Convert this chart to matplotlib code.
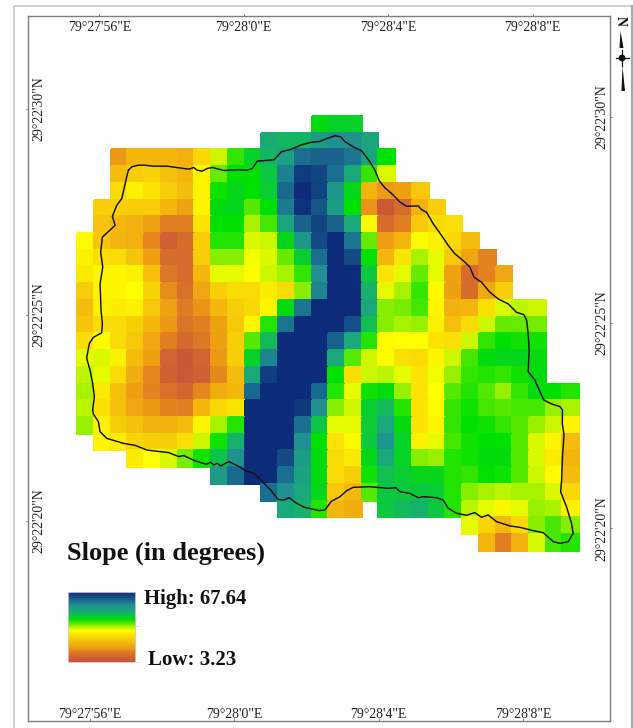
import numpy as np
import matplotlib
matplotlib.use("Agg")
import matplotlib.pyplot as plt
from matplotlib.colors import LinearSegmentedColormap, Normalize
from matplotlib.patches import Polygon, Circle

plt.rcParams['font.family'] = ['Liberation Serif', 'DejaVu Serif']

W, H = 633, 728
nan = float('nan')

# slope raster: (first column, stretched values 0-100 from Low to High)
rows = [
    (14, [61, 63, 63]),
    (11, [71, 69, 69, 76, 80, 80, 73]),
    (2, [19, 27, 27, 27, 25, 35, 48, 57, 63, 69, 75, 86, 88, 88, 85, 74, 60]),
    (2, [28, 32, 34, 29, 27, 42, 54, 60, 60, 65, 83, 96, 93, 86, 72, 57, 47]),
    (2, [36, 41, 38, 32, 28, 42, 59, 62, 60, 64, 87, 100, 94, 78, 62, 26, 19, 20, 31]),
    (1, [33, 33, 32, 32, 27, 21, 42, 61, 62, 55, 60, 84, 98, 90, 76, 60, 18, 3, 9, 25, 33]),
    (1, [30, 27, 25, 21, 14, 14, 38, 60, 60, 50, 56, 73, 88, 94, 88, 72, 43, 9, 14, 31, 36, 37]),
    (0, [43, 30, 26, 25, 16, 5, 9, 33, 58, 58, 47, 48, 62, 78, 92, 100, 85, 54, 20, 26, 43, 41, 35, 28]),
    (0, [41, 37, 36, 30, 20, 9, 9, 32, 52, 52, 45, 47, 54, 64, 86, 100, 92, 60, 26, 38, 50, 46, 31, 22, 15]),
    (0, [39, 42, 42, 41, 29, 12, 9, 27, 46, 46, 43, 48, 50, 57, 80, 100, 100, 65, 38, 46, 54, 46, 21, 9, 15, 22]),
    (0, [32, 42, 42, 44, 34, 17, 10, 22, 33, 36, 36, 40, 36, 52, 82, 100, 100, 70, 46, 50, 57, 43, 20, 9, 23, 32]),
    (0, [28, 41, 40, 41, 31, 21, 13, 18, 27, 32, 35, 42, 61, 85, 100, 100, 100, 72, 52, 53, 56, 42, 25, 26, 37, 47, 49, 48]),
    (0, [30, 36, 36, 33, 27, 19, 11, 14, 21, 31, 42, 58, 85, 100, 100, 100, 91, 67, 52, 50, 51, 41, 29, 36, 48, 54, 54, 53]),
    (0, [36, 43, 36, 31, 22, 14, 8, 12, 20, 33, 55, 68, 100, 100, 100, 88, 72, 58, 43, 44, 44, 38, 37, 48, 57, 60, 59, 59]),
    (0, [46, 47, 41, 28, 20, 6, 2, 6, 19, 33, 63, 82, 100, 100, 100, 72, 55, 48, 43, 37, 36, 42, 48, 56, 61, 62, 62, 61]),
    (0, [49, 46, 36, 24, 16, 5, 3, 5, 16, 28, 72, 95, 100, 100, 100, 60, 36, 48, 49, 46, 38, 45, 51, 57, 58, 57, 59, 61]),
    (0, [50, 39, 29, 20, 15, 10, 7, 16, 24, 27, 87, 100, 100, 100, 87, 58, 46, 59, 61, 51, 38, 44, 55, 58, 55, 51, 57, 61, 60, 58]),
    (0, [49, 37, 29, 22, 19, 15, 14, 27, 35, 38, 100, 100, 100, 97, 80, 52, 48, 64, 68, 58, 38, 43, 57, 59, 56, 55, 56, 56, 51, 50]),
    (0, [51, 41, 32, 29, 25, 25, 28, 42, 50, 58, 100, 100, 100, 86, 66, 46, 46, 64, 72, 61, 38, 42, 57, 60, 59, 57, 55, 51, 48, 42]),
    (1, [42, 40, 34, 33, 32, 37, 48, 59, 70, 100, 100, 100, 80, 60, 38, 43, 65, 78, 63, 41, 46, 56, 59, 60, 60, 55, 47, 42, 28]),
    (3, [40, 44, 47, 53, 59, 66, 80, 100, 100, 92, 76, 61, 36, 39, 62, 72, 63, 52, 51, 58, 59, 61, 61, 55, 47, 40, 26]),
    (8, [76, 87, 100, 100, 86, 74, 61, 36, 33, 59, 67, 64, 62, 62, 58, 57, 60, 59, 55, 48, 43, 28]),
    (11, [86, 80, 72, 62, 31, 27, 55, 65, 65, 65, 64, 58, 52, 50, 49, 50, 50, 47, 35]),
    (12, [72, 70, 58, 27, 24, nan, 65, 68, 70, 65, 58, 49, 46, 42, 46, 51, 50, 41]),
    (23, [46, 34, 27, 35, 52, 56, 52]),
    (24, [26, 14, 25, 47, 56, 58]),
]
n_cols = 30

# watershed boundary, in raster (column, row) units
boundary = [
    (3.06, 3.24), (3.26, 3.04), (3.66, 2.94), (3.96, 2.94), (4.56, 3.00), (5.36, 3.00), (5.96, 3.08),
    (6.66, 3.18), (6.96, 3.08), (7.16, 3.24), (7.46, 3.30), (7.76, 3.14), (8.06, 3.08), (8.46, 3.18),
    (8.76, 3.26), (9.56, 3.22), (10.16, 3.24), (10.46, 3.14), (10.76, 2.70), (11.76, 2.62), (12.2, 2.14),
    (12.76, 2.0), (13.36, 1.74), (13.96, 1.58), (14.5, 1.52), (14.94, 1.34), (15.4, 1.18), (15.74, 1.24),
    (16.0, 1.54), (16.49, 1.84), (16.99, 2.08), (17.49, 2.74), (17.79, 3.24), (18.05, 3.88), (18.39, 4.30),
    (18.79, 4.64), (19.28, 5.14), (19.68, 5.40), (20.38, 5.38), (20.58, 5.60), (20.88, 5.76), (21.27, 6.44),
    (21.77, 7.14), (22.17, 7.74), (22.57, 8.24), (23.17, 8.74), (23.47, 9.04), (23.71, 9.64), (24.16, 9.94),
    (24.66, 10.54), (25.16, 10.94), (25.76, 11.24), (26.25, 11.74), (26.69, 11.88), (26.85, 12.2), (26.95, 13.0),
    (27.01, 14.0), (26.95, 15.29), (27.35, 15.79), (27.65, 16.49), (27.89, 16.99), (28.35, 17.22), (28.85, 17.38),
    (29.0, 17.58), (28.99, 18.38), (29.09, 19.08), (29.0, 20.38), (28.95, 21.77), (28.89, 22.47), (29.24, 23.37),
    (29.54, 24.36), (29.64, 24.96), (29.34, 25.46), (28.85, 25.56), (28.45, 25.46), (27.85, 24.92), (27.25, 24.8),
    (26.45, 24.6), (25.86, 24.52), (25.06, 24.26), (24.56, 23.86), (24.16, 24.0), (23.76, 23.72), (23.27, 23.88),
    (22.67, 23.76), (22.17, 23.46), (21.87, 22.97), (21.47, 22.83), (20.68, 22.77), (20.38, 22.83), (19.88, 22.57),
    (19.28, 22.47), (19.04, 22.23), (18.59, 22.27), (17.49, 22.17), (16.49, 22.21), (16.1, 22.41), (15.7, 22.77),
    (15.2, 23.03), (14.8, 23.56), (14.46, 23.6), (13.56, 23.4), (13.06, 23.13), (12.66, 22.83), (12.36, 22.97),
    (12.0, 22.93), (11.56, 22.37), (11.06, 21.87), (10.56, 21.37), (10.06, 21.21), (9.56, 20.91), (9.06, 20.67),
    (8.56, 20.93), (8.36, 20.77), (8.16, 20.87), (7.96, 20.71), (7.72, 20.83), (7.06, 20.63), (6.36, 20.31),
    (6.06, 20.37), (5.46, 20.13), (4.16, 19.98), (3.46, 19.7), (2.76, 19.58), (1.76, 19.28), (1.36, 18.88),
    (1.26, 18.28), (0.96, 17.82), (0.92, 17.54), (1.02, 16.79), (0.92, 16.0), (0.76, 15.19), (0.56, 14.49),
    (0.72, 13.6), (0.96, 13.24), (1.46, 12.96), (1.5, 12.4), (1.42, 11.64), (1.36, 10.04), (1.52, 9.04),
    (1.4, 8.14), (1.5, 7.24), (2.26, 6.54), (2.1, 6.0), (2.36, 5.34), (2.66, 4.94), (2.86, 4.04), (3.0, 3.44),
    (3.06, 3.24),
]

lon_ticks = [56, 60, 64, 68]
lon_labels = ['79°27\'56"E', '79°28\'0"E', '79°28\'4"E', '79°28\'8"E']
lat_ticks = [20, 25, 30]
lat_labels = ['29°22\'20"N', '29°22\'25"N', '29°22\'30"N']

title_text = 'Slope (in degrees)'
high_text = 'High: 67.64'
low_text = 'Low: 3.23'

stops = [0, 8, 15, 20, 26, 32, 37, 44, 48, 51, 55, 60, 65, 72, 80, 86, 92, 100]
stop_colors = ['#c4523a', '#d4692e', '#e3821f', '#ee9f12', '#f3b40e', '#f7cc08', '#fadf04', '#ffff00',
               '#ccf700', '#99f000', '#55e800', '#00e000', '#0cc840', '#1aa87a', '#209090', '#1a6f90',
               '#134a85', '#0c2c7a']
cmap = LinearSegmentedColormap.from_list('slope', [(s / 100, c) for s, c in zip(stops, stop_colors)], N=512)
norm = Normalize(0, 100)

grid = np.full((len(rows), n_cols), np.nan)
for r, (start, vals) in enumerate(rows):
    grid[r, start:start + len(vals)] = vals

fig = plt.figure(figsize=(W / 100, H / 100), dpi=100, facecolor='white')


def box(l, t, r, b):
    return [l / W, 1 - b / H, (r - l) / W, (b - t) / H]


# map frame geometry
L, T, R, B = 28, 16, 610, 721
px_lon, px_lat = 36.1, 41.2
xlim = (56 - (90 - L) / px_lon, 56 + (R - 90) / px_lon)
ylim = (20 - (B - 521) / px_lat, 30 + (109 - T) / px_lat)

ax = fig.add_axes(box(L, T, R, B))
ax.set_xlim(xlim)
ax.set_ylim(ylim)

lon0 = 56 + (77.3 - 90) / px_lon
lat0 = 30 - (116 - 109) / px_lat
dlon = 16.73 / px_lon
dlat = 16.72 / px_lat
x_edges = lon0 + dlon * np.arange(n_cols + 1)
y_edges = lat0 - dlat * np.arange(len(rows) + 1)
ax.pcolormesh(x_edges, y_edges, np.ma.masked_invalid(grid), cmap=cmap, norm=norm, shading='flat',
              edgecolors='face', linewidth=0.1)

bc = np.array(boundary)
ax.plot(lon0 + dlon * bc[:, 0], lat0 - dlat * bc[:, 1], color='#111111', lw=1.05, solid_joinstyle='round')

frame_c = '#7f7f7f'
tick_fs = 9.9
ax.set_xticks(lon_ticks, lon_labels, fontsize=tick_fs, color='#222222')
ax.set_yticks(lat_ticks, lat_labels, fontsize=tick_fs, color='#222222', rotation=90, va='center')
ax.tick_params(axis='x', direction='in', length=2, width=0.6, color='#666666', pad=-9.7)
ax.tick_params(axis='y', direction='out', length=1.5, width=0.6, color='#666666', pad=-14.3)
for s in ax.spines.values():
    s.set_color(frame_c)
    s.set_linewidth(1.0)

# the graticule is slightly rotated: top and right ticks sit at a small offset
axt = ax.twiny()
axt.set_xlim(56 - (99.3 - L) / px_lon, 56 + (R - 99.3) / px_lon)
axt.set_xticks(lon_ticks, lon_labels, fontsize=tick_fs, color='#222222')
axt.tick_params(axis='x', direction='out', length=1.5, width=0.6, color='#666666', pad=-14.8)
axr = ax.twinx()
axr.set_ylim(20 - (B - 528.3) / px_lat, 30 + (117 - T) / px_lat)
axr.set_yticks(lat_ticks, lat_labels, fontsize=tick_fs, color='#222222', rotation=90, va='center')
axr.tick_params(axis='y', direction='out', length=1.5, width=0.6, color='#666666', pad=-12.2)
for a in (axt, axr):
    for s in a.spines.values():
        s.set_visible(False)

# legend ramp
axl = fig.add_axes(box(67.5, 591.5, 135, 661.7))
ramp = np.linspace(100, 0, 256).reshape(-1, 1)
axl.imshow(ramp, cmap=cmap, norm=norm, aspect='auto', interpolation='bilinear')
axl.set_xticks([])
axl.set_yticks([])
for s in axl.spines.values():
    s.set_color('#d8c8c8')
    s.set_linewidth(0.6)

# page overlay in pixel units: outer page edge, north arrow and legend text
ov = fig.add_axes([0, 0, 1, 1], facecolor='none')
ov.set_xlim(0, W)
ov.set_ylim(H, 0)
ov.axis('off')
ov.plot([13.5, 13.5, W], [H, 6, 6], color='#c6c6c6', lw=1.1)
ov.plot([632, 632], [6, H], color='#a8a8a8', lw=1.6)
ov.plot([135, 140], [625.5, 625.5], color='#dddddd', lw=0.6)
ov.plot([135, 140], [661.5, 661.5], color='#dddddd', lw=0.6)

ov.text(67.3, 560, title_text, fontsize=18.9, fontweight='bold', color='#111111', ha='left', va='baseline')
ov.text(144, 604, high_text, fontsize=14.9, fontweight='bold', color='#111111', ha='left', va='baseline')
ov.text(148, 665, low_text, fontsize=15.0, fontweight='bold', color='#111111', ha='left', va='baseline')

ov.text(620, 21.5, 'N', fontsize=10, fontweight='bold', color='#111111', rotation=-90, ha='center', va='center')
ov.add_patch(Polygon([(620.5, 31), (619.5, 48), (623.5, 48)], closed=True, fc='#111111', ec='none'))
ov.add_patch(Polygon([(622.5, 66), (621.5, 91), (625, 91)], closed=True, fc='#111111', ec='none'))
ov.add_patch(Circle((622, 58), 3.4, fc='#111111', ec='none'))
ov.plot([616, 628.5], [58, 58], color='#111111', lw=0.9)
ov.plot([622, 622], [50, 66], color='#111111', lw=0.9)

fig.savefig('out.png', dpi=100, facecolor='white')
